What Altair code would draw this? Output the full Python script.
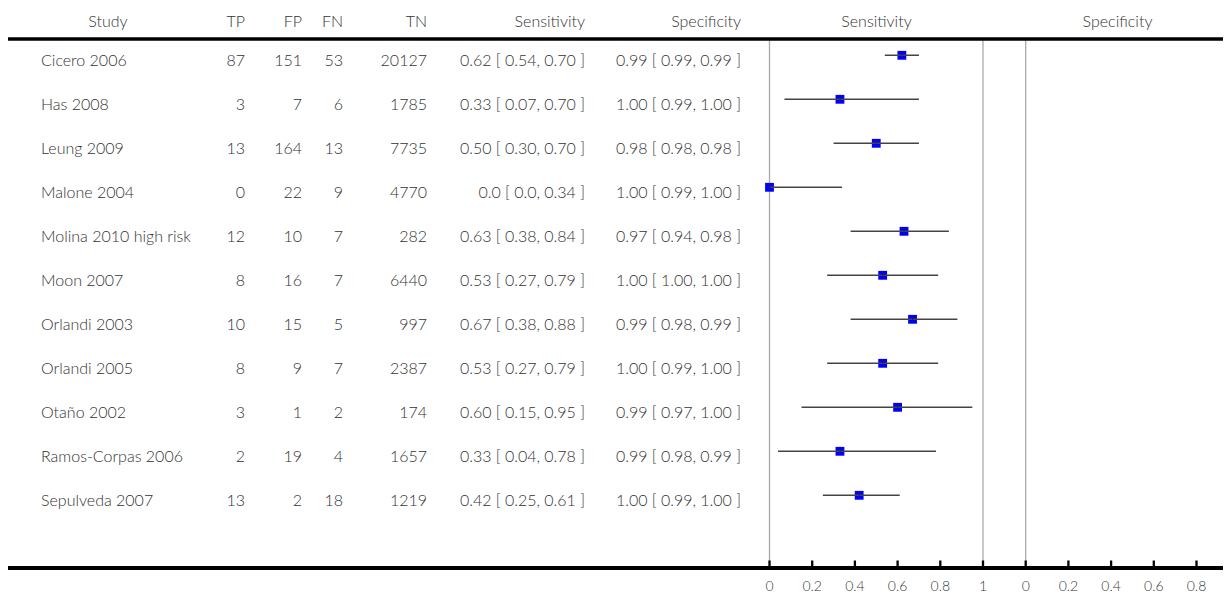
import altair as alt
import pandas as pd

# ---------------- data ----------------
studies = ["Cicero 2006", "Has 2008", "Leung 2009", "Malone 2004",
           "Molina 2010 high risk", "Moon 2007", "Orlandi 2003", "Orlandi 2005",
           "Otaño 2002", "Ramos-Corpas 2006", "Sepulveda 2007"]
tp = [87, 3, 13, 0, 12, 8, 10, 8, 3, 2, 13]
fp = [151, 7, 164, 22, 10, 16, 15, 9, 1, 19, 2]
fn = [53, 6, 13, 9, 7, 7, 5, 7, 2, 4, 18]
tn = [20127, 1785, 7735, 4770, 282, 6440, 997, 2387, 174, 1657, 1219]
sens = [0.62, 0.33, 0.50, 0.0, 0.63, 0.53, 0.67, 0.53, 0.60, 0.33, 0.42]
sens_lo = [0.54, 0.07, 0.30, 0.0, 0.38, 0.27, 0.38, 0.27, 0.15, 0.04, 0.25]
sens_hi = [0.70, 0.70, 0.70, 0.34, 0.84, 0.79, 0.88, 0.79, 0.95, 0.78, 0.61]
spec = [0.99, 1.00, 0.98, 1.00, 0.97, 1.00, 0.99, 1.00, 0.99, 0.99, 1.00]
spec_lo = [0.99, 0.99, 0.98, 0.99, 0.94, 1.00, 0.98, 0.99, 0.97, 0.98, 0.99]
spec_hi = [0.99, 1.00, 0.98, 1.00, 0.98, 1.00, 0.99, 1.00, 1.00, 0.99, 1.00]
sens_tick_values = [0, 0.2, 0.4, 0.6, 0.8, 1]
sens_tick_labels = ["0", "0.2", "0.4", "0.6", "0.8", "1"]
spec_tick_values = [0, 0.2, 0.4, 0.6, 0.8]
spec_tick_labels = ["0", "0.2", "0.4", "0.6", "0.8"]
ref_values = [0, 1]


def fmt(v):
    return "0.0" if v == 0 else f"{v:.2f}"


n = len(studies)
df = pd.DataFrame({
    "row": list(range(n)),
    "study": studies,
    "tp": [str(v) for v in tp],
    "fp": [str(v) for v in fp],
    "fn": [str(v) for v in fn],
    "tn": [str(v) for v in tn],
    "sens": sens, "sens_lo": sens_lo, "sens_hi": sens_hi,
    "spec": spec, "spec_lo": spec_lo, "spec_hi": spec_hi,
})
df["sens_txt"] = [f"{fmt(a)} [ {fmt(b)}, {fmt(c)} ]" for a, b, c in zip(sens, sens_lo, sens_hi)]
df["spec_txt"] = [f"{fmt(a)} [ {fmt(b)}, {fmt(c)} ]" for a, b, c in zip(spec, spec_lo, spec_hi)]

sens_ticks = pd.DataFrame({"v": sens_tick_values, "lab": sens_tick_labels})
spec_ticks = pd.DataFrame({"v": spec_tick_values, "lab": spec_tick_labels})
refs_df = pd.DataFrame({"v": ref_values})
one = pd.DataFrame({"a": [0]})

# ---------------- layout / style ----------------
W, H = 1215, 586
FONT = "Lato"
TXT = "#333333"
FW = 300
Y = alt.Scale(domain=[0, n - 1], range=[47.3, 487.3], nice=False, zero=False)
XS = alt.Scale(domain=[0, 1], range=[761.5, 975.0], nice=False, zero=False)
XP = alt.Scale(domain=[0, 1], range=[1017.7, 1231.2], nice=False, zero=False)

yrow = alt.Y("row:Q", scale=Y, axis=None)
layers = []

# header texts
headers = [("Study", 100, "center"), ("TP", 237, "right"), ("FP", 294, "right"),
           ("FN", 335, "right"), ("TN", 419, "right"), ("Sensitivity", 577, "right"),
           ("Specificity", 733, "right"), ("Sensitivity", 868.5, "center"),
           ("Specificity", 1109.5, "center")]
for label, xpos, al in headers:
    layers.append(
        alt.Chart(pd.DataFrame({"t": [label]})).mark_text(
            align=al, baseline="alphabetic", font=FONT, fontSize=16, fontWeight=FW, color=TXT
        ).encode(x=alt.value(xpos), y=alt.value(19), text="t:N")
    )

# table columns
cols = [("study", 33, "left"), ("tp", 237, "right"), ("fp", 294, "right"),
        ("fn", 335, "right"), ("tn", 419, "right"), ("sens_txt", 577, "right"),
        ("spec_txt", 733, "right")]
for field, xpos, al in cols:
    layers.append(
        alt.Chart(df).mark_text(
            align=al, baseline="alphabetic", dy=11, font=FONT, fontSize=16, fontWeight=FW, color=TXT
        ).encode(x=alt.value(xpos), y=yrow, text=f"{field}:N")
    )

# reference vertical lines
for sc in (XS, XP):
    layers.append(
        alt.Chart(refs_df).mark_rule(color="#aaaaaa", strokeWidth=1.3, clip=True).encode(
            x=alt.X("v:Q", scale=sc, axis=None), y=alt.value(32), y2=alt.value(558))
    )

# forest markers
for est, lo, hi, sc in (("sens", "sens_lo", "sens_hi", XS), ("spec", "spec_lo", "spec_hi", XP)):
    layers.append(
        alt.Chart(df).mark_square(size=78, color="#0000ff", opacity=1, filled=True, clip=True).encode(
            x=alt.X(f"{est}:Q", scale=sc, axis=None), y=yrow)
    )
    layers.append(
        alt.Chart(df).mark_rule(color="#444444", strokeWidth=1.6, clip=True).encode(
            x=alt.X(f"{lo}:Q", scale=sc, axis=None), x2=f"{hi}:Q", y=yrow)
    )
    layers.append(
        alt.Chart(df).mark_tick(orient="vertical", size=5, thickness=1, color="#222222", clip=True).encode(
            x=alt.X(f"{est}:Q", scale=sc, axis=None), y=yrow)
    )

# axis ticks and labels
for tdf, sc in ((sens_ticks, XS), (spec_ticks, XP)):
    layers.append(
        alt.Chart(tdf).mark_rule(color="black", strokeWidth=2.3, clip=True).encode(
            x=alt.X("v:Q", scale=sc, axis=None), y=alt.value(552.5), y2=alt.value(560))
    )
    layers.append(
        alt.Chart(tdf).mark_text(font=FONT, fontSize=14, fontWeight=FW, color="#3a3a3a",
                                 baseline="middle").encode(
            x=alt.X("v:Q", scale=sc, axis=None), y=alt.value(579), text="lab:N")
    )

# thick horizontal rules
layers.append(
    alt.Chart(one).mark_rule(color="black", strokeWidth=3.3).encode(
        x=alt.value(-3), x2=alt.value(W), y=alt.value(31))
)
layers.append(
    alt.Chart(one).mark_rule(color="black", strokeWidth=4).encode(
        x=alt.value(-3), x2=alt.value(W), y=alt.value(560))
)

chart = alt.layer(*layers).resolve_scale(x="independent").properties(
    width=W, height=H, padding=0, autosize=alt.AutoSizeParams(type="none")
).configure_view(stroke=None)

chart.save("out.html", embed_options={"renderer": "svg", "actions": False})
